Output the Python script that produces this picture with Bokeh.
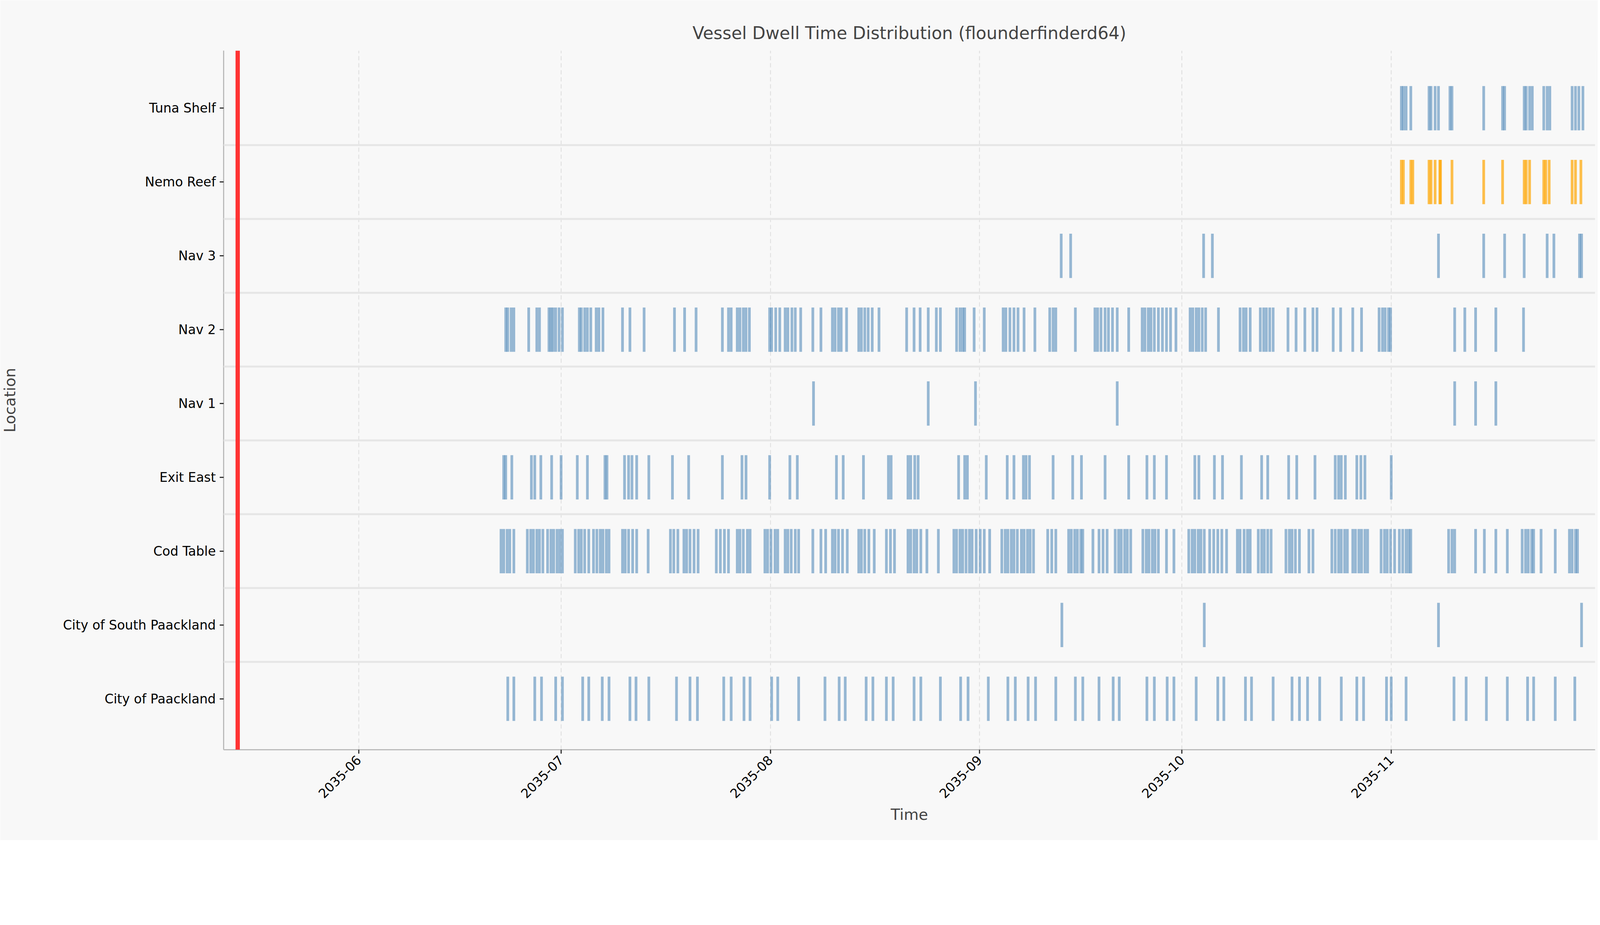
import math
import pandas as pd
from bokeh.plotting import figure
from bokeh.models import ColumnDataSource, FixedTicker, Span, DatetimeTickFormatter
from bokeh.embed import file_html
from bokeh.resources import INLINE

# Categorias (de abajo hacia arriba)
locations = ["City of Paackland", "City of South Paackland", "Cod Table", "Exit East",
             "Nav 1", "Nav 2", "Nav 3", "Nemo Reef", "Tuna Shelf"]

# Visitas: dias desde 2035-06-01
city_paackland = [22.1, 23.0, 26.1, 27.1, 29.2, 30.2, 33.2, 34.1, 36.1, 37.1, 40.2, 41.1, 43.0, 47.1,
                  49.1, 50.2, 54.1, 55.2, 57.1, 58.0, 61.2, 62.1, 65.2, 69.1, 71.2, 72.1, 75.2, 76.2,
                  78.2, 79.2, 82.3, 83.3, 86.2, 89.2, 90.3, 93.3, 96.2, 97.3, 99.2, 100.3, 103.3, 106.2,
                  107.3, 109.7, 111.8, 112.7, 116.8, 117.9, 119.8, 120.8, 124.1, 127.3, 128.2, 131.4,
                  132.3, 135.5, 138.3, 139.4, 140.6, 142.4, 145.6, 147.9, 148.9, 152.3, 153.0, 155.2,
                  162.3, 164.1, 167.1, 170.2, 173.2, 174.1, 177.3, 180.2]
city_south = [104.2, 125.3, 160.0, 181.2]
cod_table = [21.1, 21.5, 22.0, 22.4, 23.0, 25.0, 25.5, 25.9, 26.4, 26.8, 27.3, 28.0, 28.5, 28.9, 29.4,
             29.8, 30.2, 32.1, 32.6, 33.0, 33.5, 34.1, 34.8, 35.3, 35.8, 36.2, 36.7, 37.1, 39.1, 39.5,
             40.0, 40.6, 41.2, 42.9, 46.2, 46.7, 47.3, 48.2, 48.6, 49.1, 49.7, 50.3, 53.0, 53.6, 54.2,
             54.8, 56.1, 56.5, 57.0, 57.6, 58.0, 60.2, 60.6, 61.1, 61.7, 62.1, 63.2, 63.6, 64.1, 64.7,
             65.2, 67.3, 68.5, 69.2, 70.2, 70.6, 71.1, 71.7, 72.4, 74.1, 74.5, 75.0, 75.6, 76.4, 78.2,
             78.8, 79.4, 81.4, 81.8, 82.3, 82.7, 83.3, 84.2, 85.9, 88.2, 88.6, 89.1, 89.5, 90.0, 90.5,
             90.9, 91.5, 92.1, 92.7, 93.5, 95.3, 95.8, 96.2, 96.7, 97.1, 97.6, 98.2, 98.6, 99.1, 99.5,
             100.0, 102.1, 102.7, 103.3, 105.2, 105.6, 106.1, 106.5, 107.0, 107.3, 108.8, 109.7, 110.3,
             110.9, 112.1, 112.6, 113.0, 113.5, 113.9, 114.4, 116.2, 116.7, 117.1, 117.6, 118.0, 118.5,
             119.7, 120.8, 123.0, 123.5, 123.9, 124.4, 124.8, 125.3, 126.1, 126.7, 127.3, 127.9, 128.6,
             130.2, 130.6, 131.2, 131.7, 132.1, 133.3, 133.8, 134.2, 134.7, 135.2, 137.4, 137.9, 138.3,
             138.8, 139.4, 140.8, 141.4, 144.2, 144.7, 145.2, 145.6, 146.1, 146.5, 147.3, 147.7, 148.2,
             148.6, 149.1, 149.5, 151.5, 152.0, 152.4, 152.9, 153.5, 154.2, 154.7, 155.2, 155.6, 155.9,
             161.5, 162.0, 162.4, 165.5, 166.8, 168.5, 170.2, 172.4, 172.9, 173.3, 173.8, 174.1, 175.2,
             177.3, 179.4, 179.8, 180.3, 180.6]
exit_east = [21.5, 21.8, 22.7, 25.6, 26.1, 27.0, 28.6, 30.0, 32.4, 33.9, 36.5, 36.8, 39.4, 40.0, 40.5,
             41.2, 43.0, 46.5, 48.9, 53.9, 56.8, 57.4, 60.9, 63.9, 65.0, 70.8, 71.8, 74.8, 78.5, 78.9,
             81.4, 81.8, 82.4, 82.9, 88.9, 89.8, 90.2, 93.0, 96.1, 97.1, 98.5, 98.9, 99.4, 102.9, 105.8,
             107.1, 110.6, 114.1, 116.8, 117.9, 119.7, 123.9, 124.5, 126.8, 128.0, 130.8, 133.8, 134.7,
             137.8, 139.0, 141.7, 144.7, 145.2, 145.6, 146.2, 147.9, 148.5, 149.1, 153.0]
nav_1 = [67.4, 84.4, 91.4, 112.4, 162.4, 165.5, 168.5]
nav_2 = [21.8, 22.1, 22.6, 23.0, 25.2, 26.4, 26.8, 28.2, 28.5, 28.8, 29.2, 29.7, 30.2, 32.7, 33.0, 33.5,
         33.9, 34.4, 35.2, 35.6, 36.2, 39.1, 40.2, 42.3, 46.8, 48.3, 50.0, 53.9, 54.8, 55.2, 56.1, 56.5,
         57.0, 57.4, 57.9, 60.9, 61.2, 61.8, 62.4, 63.2, 63.6, 64.2, 64.7, 65.5, 67.3, 68.5, 70.2, 70.6,
         71.1, 71.5, 72.3, 74.1, 74.5, 75.0, 75.5, 76.1, 77.1, 81.2, 82.3, 83.2, 84.4, 85.6, 86.2, 88.6,
         89.1, 89.5, 89.8, 91.2, 92.7, 95.5, 95.9, 96.5, 97.1, 97.7, 98.6, 100.2, 102.4, 102.9, 103.3,
         106.2, 109.1, 109.5, 110.0, 110.6, 111.1, 111.7, 112.4, 114.1, 116.1, 116.5, 117.0, 117.4,
         117.9, 118.5, 119.1, 119.7, 120.3, 121.1, 123.2, 123.6, 124.1, 124.5, 125.0, 125.5, 127.4,
         130.6, 131.1, 131.5, 132.1, 133.6, 134.1, 134.5, 135.0, 135.5, 137.7, 138.9, 140.2, 141.4,
         142.0, 144.4, 145.5, 147.3, 148.6, 151.2, 151.7, 152.1, 152.6, 152.9, 162.4, 163.9, 165.5,
         168.5, 172.6]
nav_3 = [104.1, 105.5, 125.2, 126.5, 160.0, 166.7, 169.8, 172.7, 176.1, 177.1, 180.9, 181.2]
nemo_reef = [154.5, 154.8, 155.9, 156.2, 158.6, 158.9, 159.5, 160.2, 160.3, 162.0, 166.7, 169.5, 172.7,
             173.0, 173.5, 175.6, 175.9, 176.4, 179.8, 180.3, 181.1]
tuna_shelf = [154.5, 154.8, 155.2, 155.9, 158.6, 158.9, 159.5, 160.0, 161.7, 162.0, 166.7, 169.5, 169.8,
              172.7, 173.0, 173.5, 173.9, 175.6, 176.1, 176.5, 179.8, 180.3, 180.8, 181.4]
visits = [city_paackland, city_south, cod_table, exit_east, nav_1, nav_2, nav_3, nemo_reef, tuna_shelf]

DWELL_DAYS = 0.4
base_date = pd.Timestamp("2035-06-01")
marker_date = pd.Timestamp("2035-05-14 02:00")
x_start = pd.Timestamp("2035-05-12")
x_end = pd.Timestamp("2035-12-01 05:00")
month_ticks = ["2035-06-01", "2035-07-01", "2035-08-01", "2035-09-01", "2035-10-01", "2035-11-01"]

BG = "#f8f8f8"
rows = []
for i, (loc, days) in enumerate(zip(locations, visits)):
    for d in days:
        rows.append({"x": base_date + pd.Timedelta(days=d), "y0": i - 0.3, "y1": i + 0.3,
                     "color": "#ffa500" if loc == "Nemo Reef" else "#4682b4",
                     "alpha": 0.7 if loc == "Nemo Reef" else 0.55})
source = ColumnDataSource(pd.DataFrame(rows))

p = figure(width=4090, height=2150, x_axis_type="datetime",
           x_range=(x_start, x_end), y_range=(-0.69, 8.78),
           output_backend="svg", toolbar_location=None,
           min_border_left=560, min_border_right=7, min_border_top=129, min_border_bottom=232,
           background_fill_color=BG, border_fill_color=BG,
           title="Vessel Dwell Time Distribution (flounderfinderd64)")

p.title.align = "center"
p.title.text_font = "DejaVu Sans"
p.title.text_font_size = "44px"
p.title.text_font_style = "normal"
p.title.offset = 0
p.title.standoff = 40

p.vbar(x="x", width=DWELL_DAYS * 86400000, bottom="y0", top="y1", source=source,
       fill_color="color", line_color=None, fill_alpha="alpha")

# lineas separadoras de filas
for i in range(len(locations) - 1):
    p.add_layout(Span(location=i + 0.5, dimension="width", line_color="#e6e6e6", line_width=5))
p.add_layout(Span(location=marker_date, dimension="height", line_color="#ff3333", line_width=11))

month_ms = [pd.Timestamp(t).value // 10**6 for t in month_ticks]
p.xgrid.ticker = FixedTicker(ticks=month_ms)
p.xgrid.grid_line_color = "#dddddd"
p.xgrid.grid_line_dash = "11 7"
p.xgrid.grid_line_width = 2
p.ygrid.grid_line_color = None

p.xaxis.ticker = FixedTicker(ticks=month_ms)
p.xaxis.formatter = DatetimeTickFormatter(months="%Y-%m", days="%Y-%m", hours="%Y-%m")
p.xaxis.major_label_orientation = math.pi / 4
p.yaxis.ticker = FixedTicker(ticks=list(range(len(locations))))
p.yaxis.major_label_overrides = {i: loc for i, loc in enumerate(locations)}

for ax in (p.xaxis[0], p.yaxis[0]):
    ax.axis_line_color = "#bbbbbb"
    ax.axis_line_width = 3
    ax.major_tick_line_color = "#333333"
    ax.major_tick_line_width = 3
    ax.major_tick_out = 10
    ax.major_tick_in = 0
    ax.minor_tick_line_color = None
    ax.major_label_text_font = "DejaVu Sans"
    ax.major_label_text_font_size = "33px"
    ax.major_label_text_color = "#000000"
    ax.axis_label_text_font = "DejaVu Sans"
    ax.axis_label_text_font_size = "39px"
    ax.axis_label_text_font_style = "normal"
    ax.major_label_standoff = 10
p.xaxis.axis_label = "Time"
p.yaxis.axis_label = "Location"
p.yaxis.axis_label_standoff = 110
p.outline_line_color = None

open("out.html", "w").write(file_html(p, INLINE))
